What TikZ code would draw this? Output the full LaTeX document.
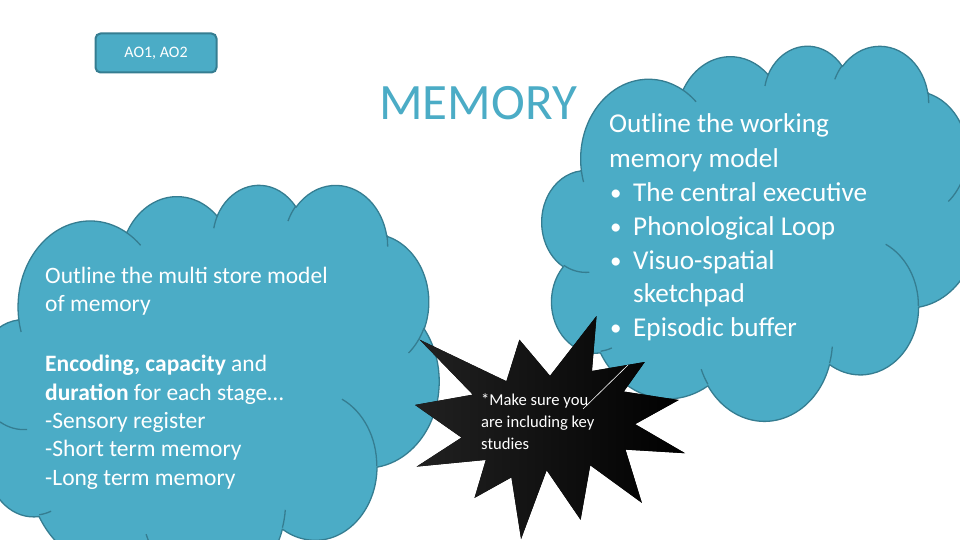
\documentclass[tikz,border=0pt]{standalone}
\usepackage{fontspec}
\setmainfont{Carlito}
\definecolor{aqua}{HTML}{4BACC6}
\definecolor{aquadk}{HTML}{357D91}
\tikzset{
  parc/.style n args={4}{x radius=#1, y radius=#2,
    start angle={vang(#3,#1,#2)},
    delta angle={mod(vang((#3)+(#4),#1,#2)-vang(#3,#1,#2)+720,360)}},
  cloudfill/.style={fill=aqua, draw=aquadk, line width=1.3pt, line join=round},
  cloudline/.style={draw=aquadk, line width=1.3pt},
  burst/.style={left color=black!87!white, right color=black},
  ltext/.style={text=white, anchor=base west, inner sep=0pt, font=\fontsize{23.5}{28}\selectfont},
  rtext/.style={text=white, anchor=base west, inner sep=0pt, font=\fontsize{27.2}{32}\selectfont},
  btext/.style={text=white, anchor=base west, inner sep=0pt, font=\fontsize{23}{32}\selectfont},
  stext/.style={text=white, anchor=base west, inner sep=0pt, font=\fontsize{16.6}{20}\selectfont},
  titletext/.style={text=aqua, anchor=base west, inner sep=0pt, font=\fontsize{51}{60}\selectfont},
  aobox/.style={fill=aqua, draw=aquadk, line width=2pt, rounded corners=5pt, text=white,
    minimum width=121pt, minimum height=39pt, inner sep=0pt, font=\fontsize{16}{20}\selectfont}
}
\newcommand\pptcloud{%
  \filldraw[cloudfill] (9.028,33.264)
    arc[parc={15.632}{21.273}{-190.4875}{123.7805}]
    arc[parc={12.345}{16.822}{-144.1024}{89.9452}]
    arc[parc={10.104}{13.762}{-145.8079}{99.7230}]
    arc[parc={11.243}{15.266}{-130.9861}{117.2417}]
    arc[parc={12.345}{16.836}{-78.7089}{109.0269}]
    arc[parc={15.683}{21.343}{-46.2673}{130.269}]
    arc[parc={13.391}{18.211}{0.6250}{114.0333}]
    arc[parc={15.630}{21.331}{22.4516}{115.1726}]
    arc[parc={17.870}{24.405}{66.2426}{75.7110}]
    arc[parc={10.093}{13.699}{-274.9421}{146.7356}]
    arc[parc={10.058}{13.762}{-246.8285}{152.5189}]
    -- cycle;
  \draw[cloudline]
    (10.863,60.595) arc[parc={10.058}{13.762}{86.742}{26.4295}]
    (16.037,80.785) arc[parc={10.093}{13.699}{73.6105}{11.4475}]
    (38.144,90.486) arc[parc={15.630}{21.331}{137.6242}{14.0811}]
    (66.729,80.442) arc[parc={15.630}{21.331}{6.4533}{15.9984}]
    (79.002,53.134) arc[parc={13.391}{18.211}{-70.2924}{70.9174}]
    (96.755,35.542) arc[parc={12.345}{16.836}{30.3180}{27.7515}]
    (88.713,12.560) arc[parc={11.243}{15.266}{-13.7443}{14.8589}]
    (67.310,9.148) arc[parc={11.243}{15.266}{-149.1815}{18.1954}]
    (51.252,10.926) arc[parc={10.104}{13.762}{-163.4943}{17.6864}]
    (32.407,12.019) arc[parc={15.632}{21.273}{-66.7070}{12.3194}]
    (9.553,36.549) arc[parc={15.632}{21.273}{157.6544}{11.8582}];
}
\begin{document}
\begin{tikzpicture}[x=1pt, y=-1pt, declare function={vang(\a,\w,\h)=atan2(\w*sin(\a),\h*cos(\a));}]
\useasboundingbox (0,0) rectangle (960,540);
\fill[white] (0,0) rectangle (960,540);
\begin{scope}
\clip (0,0) rectangle (960,540);
% left cloud
\begin{scope}[shift={(-23,184)}, x=4.62pt, y=-4.05pt]
\pptcloud
\end{scope}
% right cloud
\begin{scope}[shift={(542,45)}, x=4.35pt, y=-3.75pt]
\pptcloud
\end{scope}
% starburst
\begin{scope}[shift={(415,316)}, x=2.70pt, y=-2.23pt]
\fill[burst] (50,26.852) -- (67.231,0) -- (65.532,24.653) -- (85.093,20.634)
  -- (77.324,33.866) -- (97.671,37.671) -- (81.514,48.495) -- (100,61.528)
  -- (77.949,59.917) -- (84.005,83.773) -- (64.907,66.931) -- (61.329,91.375)
  -- (48.759,69.144) -- (39.282,100) -- (35.718,72.347) -- (22.046,81.560)
  -- (26.236,64.523) -- (0.625,67.532) -- (17.231,54.514) -- (0,39.884)
  -- (21.421,35.264) -- (1.713,10.625) -- (33.852,29.259) -- (38.667,10.625) -- cycle;
\end{scope}
\coordinate (wla) at (628,365);
\coordinate (wlb) at (583,409);
\draw[white, line width=0.6pt] (wla) -- (wlb);
\end{scope}
% AO box and title
\node[aobox] (ao) at (156,53) {AO1, AO2};
\node[titletext] (title) at (379,120) {MEMORY};
% left cloud text
\node[ltext] (l1) at (45,283) {Outline the multi store model};
\node[ltext] (l2) at (45,311.7) {of memory};
\node[ltext] (l3) at (45,371.7) {\textbf{Encoding, capacity} and};
\node[ltext] (l4) at (45,400) {\textbf{duration} for each stage…};
\node[ltext] (l5) at (45,428.3) {-Sensory register};
\node[ltext] (l6) at (45,456.7) {-Short term memory};
\node[ltext] (l7) at (45,485) {-Long term memory};
% right cloud text
\node[rtext] (r1) at (609,133) {Outline the working};
\node[rtext] (r2) at (609,167.3) {memory model};
\node[btext] (b1) at (610,200.5) {•};
\node[rtext] (r3) at (633,201.3) {The central executive};
\node[btext] (b2) at (610,234.5) {•};
\node[rtext] (r4) at (633,235.3) {Phonological Loop};
\node[btext] (b3) at (610,268.5) {•};
\node[rtext] (r5) at (633,269.3) {Visuo-spatial};
\node[rtext] (r6) at (633,302.7) {sketchpad};
\node[btext] (b4) at (610,335.5) {•};
\node[rtext] (r7) at (633,336.3) {Episodic buffer};
% starburst text
\node[stext] (s1) at (481,405) {*Make sure you};
\node[stext] (s2) at (481,427.5) {are including key};
\node[stext] (s3) at (481,449) {studies};
\end{tikzpicture}
\end{document}
